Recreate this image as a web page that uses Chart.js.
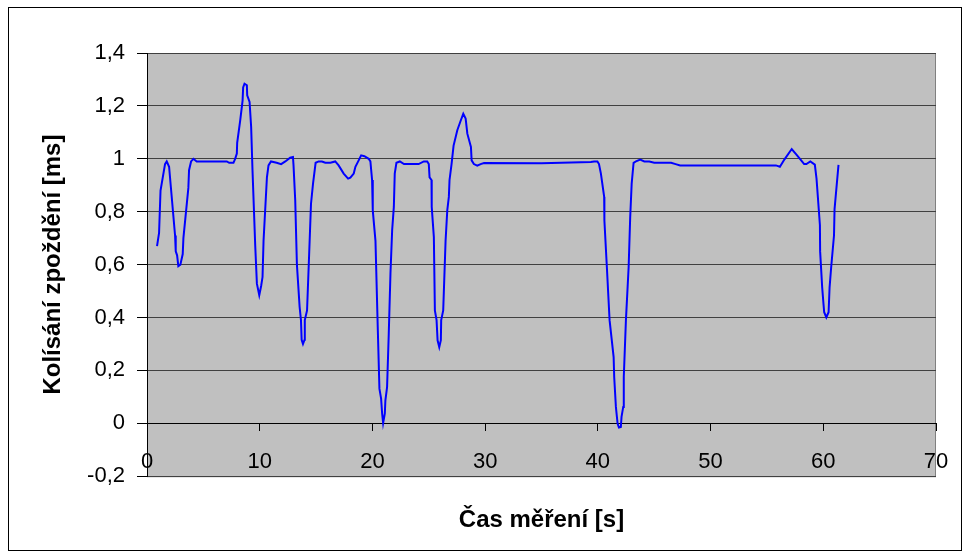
<!DOCTYPE html>
<html lang="cs">
  <head>
    <meta charset="UTF-8" />
    <title>Kolísání zpoždění</title>
    <style>
      body {
        margin: 0;
        background: #fff;
      }
    </style>
  </head>
  <body>
    <canvas id="jitterChart" width="968" height="558"></canvas>

    <script src="https://cdn.jsdelivr.net/npm/chart.js"></script>

    <script>
      // čas měření [s]
      const times = [
        0.89, 1.07, 1.2, 1.6, 1.75, 1.96, 2.49, 2.55, 2.67, 2.78, 2.96, 3.17,
        3.23, 3.67, 3.73, 3.91, 4.12, 4.41, 5.5, 6.5, 7.08, 7.29, 7.67, 7.82,
        7.97, 8.0, 8.27, 8.48, 8.53, 8.65, 8.86, 8.89, 9.1, 9.24, 9.36, 9.6,
        9.75, 9.96, 10.13, 10.25, 10.34, 10.64, 10.78, 11.0, 11.5, 11.9, 12.27,
        12.7, 12.95, 13.0, 13.15, 13.3, 13.54, 13.66, 13.72, 13.84, 13.98, 14.0,
        14.2, 14.43, 14.55, 14.73, 14.84, 14.96, 15.23, 15.52, 15.82, 16.27,
        16.7, 17.0, 17.45, 17.84, 18.04, 18.34, 18.49, 18.78, 19.0, 19.29,
        19.67, 19.82, 19.97, 20.03, 20.27, 20.48, 20.62, 20.77, 20.86, 20.95,
        21.1, 21.15, 21.3, 21.45, 21.6, 21.75, 21.9, 21.98, 22.13, 22.43, 22.8,
        24.1, 24.56, 24.86, 25.0, 25.07, 25.24, 25.26, 25.45, 25.54, 25.69,
        25.78, 25.93, 26.07, 26.1, 26.28, 26.49, 26.64, 26.78, 26.84, 27.02,
        27.2, 27.53, 27.82, 28.06, 28.27, 28.42, 28.74, 28.8, 29.0, 29.3, 29.6,
        29.9, 35.0, 39.38, 39.67, 39.96, 40.1, 40.27, 40.56, 40.58, 40.8, 41.04,
        41.4, 41.45, 41.6, 41.75, 41.87, 42.04, 42.1, 42.25, 42.3, 42.49, 42.73,
        42.87, 43.0, 43.17, 43.38, 43.76, 44.12, 44.56, 45.0, 46.5, 46.9, 47.3,
        50.0, 55.4, 55.8, 56.15, 56.56, 57.2, 57.6, 58.04, 58.3, 58.5, 58.85,
        59.25, 59.4, 59.7, 59.72, 59.9, 60.02, 60.08, 60.27, 60.47, 60.56, 60.7,
        60.95, 61.0, 61.35,
      ];

      // kolísání zpoždění [ms]
      const jitter = [
        0.67, 0.72, 0.88, 0.98, 0.99, 0.97, 0.71, 0.65, 0.635, 0.594, 0.6, 0.64,
        0.7, 0.89, 0.957, 0.99, 1.0, 0.99, 0.99, 0.99, 0.99, 0.985, 0.985, 1.0,
        1.02, 1.06, 1.145, 1.22, 1.27, 1.284, 1.278, 1.24, 1.215, 1.12, 0.957,
        0.673, 0.528, 0.484, 0.52, 0.553, 0.69, 0.93, 0.975, 0.99, 0.985, 0.98,
        0.99, 1.004, 1.007, 0.975, 0.843, 0.6, 0.44, 0.39, 0.316, 0.3, 0.316,
        0.39, 0.427, 0.69, 0.83, 0.906, 0.944, 0.985, 0.99, 0.99, 0.985, 0.985,
        0.99, 0.975, 0.944, 0.925, 0.929, 0.944, 0.97, 0.994, 1.013, 1.01, 1.0,
        0.99, 0.92, 0.805, 0.69, 0.35, 0.131, 0.093, 0.037, 0.001, 0.037, 0.087,
        0.137, 0.34, 0.566, 0.73, 0.818, 0.944, 0.985, 0.99, 0.98, 0.98, 0.99,
        0.99, 0.98, 0.93, 0.92, 0.818, 0.704, 0.427, 0.39, 0.314, 0.288, 0.314,
        0.39, 0.427, 0.69, 0.805, 0.856, 0.92, 0.98, 1.05, 1.108, 1.143, 1.17,
        1.152, 1.095, 1.045, 0.994, 0.98, 0.974, 0.98, 0.984, 0.983, 0.988,
        0.99, 0.99, 0.98, 0.944, 0.856, 0.767, 0.59, 0.39, 0.25, 0.175, 0.062,
        -0.001, -0.016, -0.014, 0.024, 0.062, 0.175, 0.39, 0.59, 0.78, 0.906,
        0.985, 0.99, 0.997, 0.99, 0.99, 0.985, 0.985, 0.98, 0.975, 0.975, 0.975,
        0.975, 0.97, 0.998, 1.037, 1.017, 0.994, 0.98, 0.98, 0.99, 0.978, 0.925,
        0.75, 0.65, 0.515, 0.45, 0.42, 0.4, 0.42, 0.515, 0.59, 0.71, 0.81,
        0.977,
      ];

      const xTicks = { min: 0, max: 70, step: 10 };
      const yTicks = { min: -0.2, max: 1.4, step: 0.2 };

      const FONT = "'Liberation Sans', Arial, sans-serif";

      const points = times.map((t, i) => ({ x: t, y: jitter[i] }));

      // šedá plocha grafu a rámeček kolem celého obrázku
      const frame = {
        id: "frame",
        beforeDraw(chart) {
          const { ctx, chartArea: a } = chart;
          ctx.save();
          ctx.fillStyle = "#fff";
          ctx.fillRect(0, 0, chart.width, chart.height);
          ctx.fillStyle = "#c0c0c0";
          ctx.fillRect(a.left, a.top, a.right - a.left, a.bottom - a.top);
          ctx.strokeStyle = "#808080";
          ctx.lineWidth = 1;
          ctx.strokeRect(a.left + 0.5, a.top + 0.5, a.right - a.left - 1, a.bottom - a.top);
          ctx.strokeStyle = "#000";
          ctx.strokeRect(8.5, 7.5, 953, 543);
          ctx.restore();
        },
      };

      new Chart(document.getElementById("jitterChart"), {
        type: "line",
        data: {
          datasets: [
            {
              data: points,
              borderColor: "#0000ff",
              borderWidth: 2,
              pointRadius: 0,
              tension: 0,
              fill: false,
            },
          ],
        },
        options: {
          responsive: false,
          animation: false,
          layout: { padding: { left: 0, top: 53, right: 32, bottom: 0 } },
          plugins: {
            legend: { display: false },
            tooltip: { enabled: false },
            title: {
              display: true,
              text: "Čas měření [s]",
              position: "bottom",
              fullSize: false,
              color: "#000",
              font: { family: FONT, size: 24, weight: "bold" },
              padding: { top: 30, bottom: 23 },
            },
          },
          scales: {
            x: {
              type: "linear",
              position: { y: 0 },
              min: xTicks.min,
              max: xTicks.max,
              ticks: {
                stepSize: xTicks.step,
                color: "#000",
                padding: 18,
                font: { family: FONT, size: 22 },
              },
              grid: {
                drawOnChartArea: false,
                tickLength: 7,
                tickColor: "#000",
              },
              border: { color: "#000", width: 1 },
            },
            y: {
              min: yTicks.min,
              max: yTicks.max,
              afterFit(scale) {
                scale.width = 147;
              },
              ticks: {
                stepSize: yTicks.step,
                color: "#000",
                padding: 12,
                font: { family: FONT, size: 22 },
                callback: (v) => String(Math.round(v * 10) / 10).replace(".", ","),
              },
              grid: {
                color: "#404040",
                tickLength: 10,
                tickColor: "#000",
              },
              border: { color: "#000", width: 1 },
              title: {
                display: true,
                text: "Kolísání zpoždění [ms]",
                color: "#000",
                font: { family: FONT, size: 24, weight: "bold" },
                padding: { top: 39, bottom: 0 },
              },
            },
          },
        },
        plugins: [frame],
      });
    </script>
  </body>
</html>
